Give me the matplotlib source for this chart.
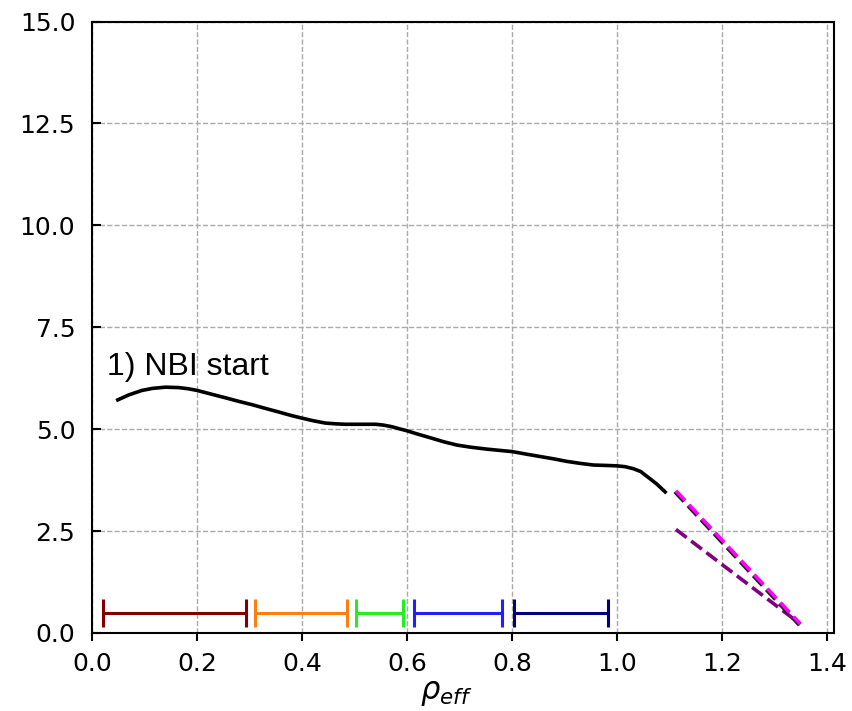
import matplotlib
matplotlib.use("Agg")
import matplotlib.pyplot as plt
import matplotlib.patheffects as pe

# ---- data ----
rho = [0.046, 0.07, 0.095, 0.115, 0.14, 0.165, 0.184, 0.2, 0.227, 0.254, 0.28,
       0.305, 0.33, 0.356, 0.378, 0.4, 0.42, 0.444, 0.465, 0.483, 0.51, 0.54,
       0.555, 0.571, 0.585, 0.6, 0.62, 0.644, 0.67, 0.695, 0.72, 0.752, 0.776,
       0.8, 0.826, 0.853, 0.88, 0.904, 0.93, 0.955, 0.98, 1.0, 1.015, 1.031,
       1.045, 1.057, 1.075, 1.094]
profile = [5.70, 5.84, 5.95, 6.00, 6.03, 6.02, 5.99, 5.95, 5.86, 5.77, 5.68,
           5.60, 5.51, 5.42, 5.34, 5.27, 5.21, 5.15, 5.13, 5.12, 5.12, 5.12,
           5.10, 5.06, 5.01, 4.96, 4.88, 4.79, 4.69, 4.61, 4.56, 4.51, 4.48,
           4.45, 4.39, 4.33, 4.27, 4.21, 4.16, 4.12, 4.11, 4.10, 4.08, 4.03,
           3.96, 3.84, 3.66, 3.43]

edge_x = [1.112, 1.349]
edge_magenta = [3.49, 0.22]
edge_purple = [2.54, 0.22]

bin_lo = [0.021, 0.311, 0.502, 0.613, 0.803]
bin_hi = [0.293, 0.485, 0.592, 0.780, 0.982]
bin_y = [0.5, 0.5, 0.5, 0.5, 0.5]
bin_colors = ["#800000", "#ff7f0e", "#22ee22", "#2020ff", "#000080"]

xticks = [0.0, 0.2, 0.4, 0.6, 0.8, 1.0, 1.2, 1.4]
yticks = [0.0, 2.5, 5.0, 7.5, 10.0, 12.5, 15.0]
label_text = "1) NBI start"

# ---- figure ----
fig = plt.figure(figsize=(8.52, 7.11), dpi=100)
ax = fig.add_axes([92/852, 1 - 633/711, (834 - 92)/852, (633 - 21.5)/711])

ax.plot(rho, profile, color="black", lw=2.6, zorder=3,
        solid_joinstyle="round", solid_capstyle="butt")

ax.plot(edge_x, edge_purple, color="#800080", lw=2.6, ls="--", zorder=3)
ax.plot(edge_x, edge_magenta, color="#ff00ff", lw=2.6, ls="--", zorder=4,
        path_effects=[pe.Stroke(linewidth=2.6, foreground="#202020",
                                offset=(-0.8, -0.8)),
                      pe.Normal()])

for lo, hi, y, c in zip(bin_lo, bin_hi, bin_y, bin_colors):
    ax.errorbar([(lo + hi) / 2], [y], xerr=[(hi - lo) / 2], color=c,
                elinewidth=2.2, capsize=10, capthick=2.2, fmt="none", zorder=3)

ax.text(0.028, 6.33, label_text, fontsize=23, family="Liberation Sans",
        va="baseline", ha="left")

ax.set_xlim(0, 1.413)
ax.set_ylim(0, 15)
ax.set_xticks(xticks)
ax.set_yticks(yticks)
ax.set_xticklabels([f"{v:.1f}" for v in xticks])
ax.set_yticklabels([f"{v:.1f}" for v in yticks])
ax.tick_params(axis="both", labelsize=18, width=1.5)
ax.tick_params(axis="y", direction="in", length=6.5, pad=12)
ax.tick_params(axis="x", direction="out", length=6, pad=8)
ax.grid(True, ls="--", lw=1, color="#aaaaaa")
for s in ax.spines.values():
    s.set_linewidth(1.5)

ax.set_xlabel(r"$\rho_{eff}$", fontsize=22, x=0.477, labelpad=2)

fig.savefig("out.png", dpi=100)
